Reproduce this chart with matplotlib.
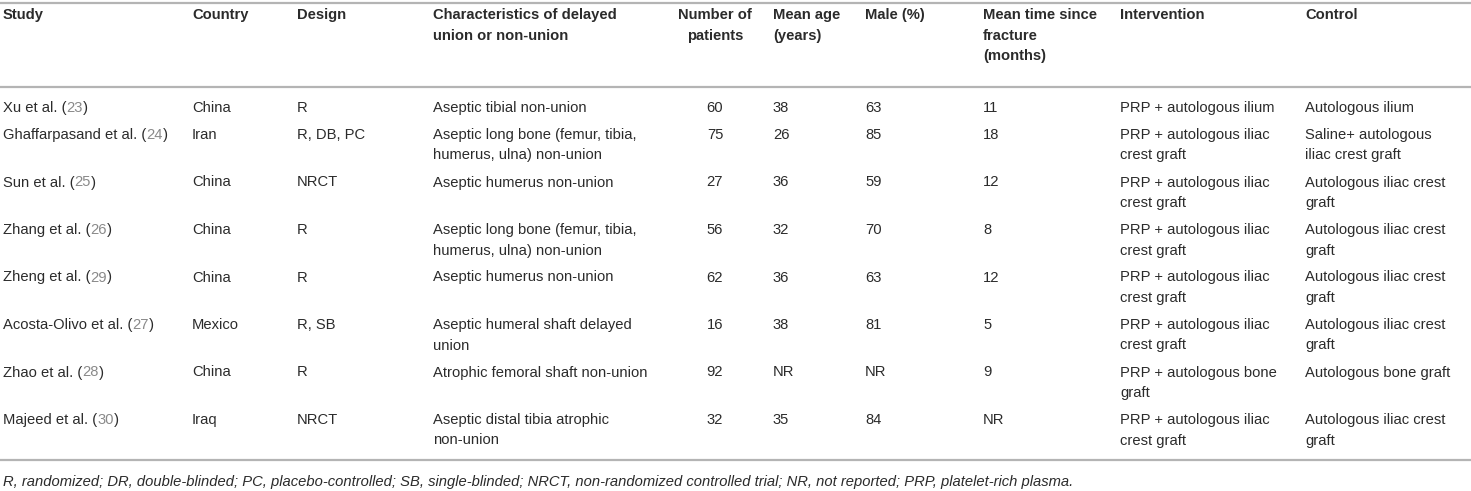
import matplotlib
matplotlib.use('Agg')
import matplotlib.pyplot as plt

# table content
studies = ['Xu et al.', 'Ghaffarpasand et al.', 'Sun et al.', 'Zhang et al.',
           'Zheng et al.', 'Acosta-Olivo et al.', 'Zhao et al.', 'Majeed et al.']
refs = ['23', '24', '25', '26', '29', '27', '28', '30']
countries = ['China', 'Iran', 'China', 'China', 'China', 'Mexico', 'China', 'Iraq']
designs = ['R', 'R, DB, PC', 'NRCT', 'R', 'R', 'R, SB', 'R', 'NRCT']
characteristics = ['Aseptic tibial non-union',
                   'Aseptic long bone (femur, tibia,\nhumerus, ulna) non-union',
                   'Aseptic humerus non-union',
                   'Aseptic long bone (femur, tibia,\nhumerus, ulna) non-union',
                   'Aseptic humerus non-union',
                   'Aseptic humeral shaft delayed\nunion',
                   'Atrophic femoral shaft non-union',
                   'Aseptic distal tibia atrophic\nnon-union']
patients = ['60', '75', '27', '56', '62', '16', '92', '32']
mean_age = ['38', '26', '36', '32', '36', '38', 'NR', '35']
male_pct = ['63', '85', '59', '70', '63', '81', 'NR', '84']
time_since = ['11', '18', '12', '8', '12', '5', '9', 'NR']
intervention = ['PRP + autologous ilium',
                'PRP + autologous iliac\ncrest graft',
                'PRP + autologous iliac\ncrest graft',
                'PRP + autologous iliac\ncrest graft',
                'PRP + autologous iliac\ncrest graft',
                'PRP + autologous iliac\ncrest graft',
                'PRP + autologous bone\ngraft',
                'PRP + autologous iliac\ncrest graft']
control = ['Autologous ilium',
           'Saline+ autologous\niliac crest graft',
           'Autologous iliac crest\ngraft',
           'Autologous iliac crest\ngraft',
           'Autologous iliac crest\ngraft',
           'Autologous iliac crest\ngraft',
           'Autologous bone graft',
           'Autologous iliac crest\ngraft']
headers = ['Study', 'Country', 'Design', 'Characteristics of delayed\nunion or non-union',
           'Number of\npatients', 'Mean age\n(years)', 'Male (%)',
           'Mean time since\nfracture\n(months)', 'Intervention', 'Control']
footnote = ('R, randomized; DR, double-blinded; PC, placebo-controlled; SB, single-blinded; '
            'NRCT, non-randomized controlled trial; NR, not reported; PRP, platelet-rich plasma.')

# layout (pixels)
W, H = 1471, 491
col_x = [3, 192, 297, 433, 715, 773, 865, 983, 1120, 1305]
col_ha = ['left', 'left', 'left', 'left', 'center', 'left', 'left', 'left', 'left', 'left']
line_h = 20.5
row_gap = 6.5
fs = 10.6
txt_col = '#2b2b2b'
ref_col = '#8a8a8a'
rule_col = '#b4b4b4'

plt.rcParams['font.family'] = ['Liberation Sans', 'DejaVu Sans']

fig = plt.figure(figsize=(W / 100, H / 100), dpi=100)
ax = fig.add_axes([0, 0, 1, 1])
ax.set_xlim(0, W)
ax.set_ylim(H, 0)
ax.axis('off')

def cell(x, y, s, ha='left', **kw):
    for i, part in enumerate(s.split('\n')):
        ax.text(x, y + i * line_h, part, ha=ha, va='center', fontsize=fs,
                color=txt_col, **kw)

# rules
ax.axhline(3, color=rule_col, lw=1.6)
ax.axhline(87, color=rule_col, lw=1.6)
ax.axhline(460, color=rule_col, lw=1.6)

# header
for x, ha, h in zip(col_x, col_ha, headers):
    cell(x, 15, h, ha=ha, fontweight='bold')

# body
renderer = fig.canvas.get_renderer()
inv = ax.transData.inverted()
y = 108
for i in range(len(studies)):
    row = [countries[i], designs[i], characteristics[i], patients[i], mean_age[i],
           male_pct[i], time_since[i], intervention[i], control[i]]
    # study name with grey reference number
    t = ax.text(col_x[0], y, studies[i] + ' (', ha='left', va='center', fontsize=fs, color=txt_col)
    x1 = inv.transform(t.get_window_extent(renderer).get_points())[1][0]
    t2 = ax.text(x1, y, refs[i], ha='left', va='center', fontsize=fs, color=ref_col)
    x2 = inv.transform(t2.get_window_extent(renderer).get_points())[1][0]
    ax.text(x2, y, ')', ha='left', va='center', fontsize=fs, color=txt_col)
    for x, ha, s in zip(col_x[1:], col_ha[1:], row):
        cell(x, y, s, ha=ha)
    n = max(s.count('\n') + 1 for s in row)
    y += n * line_h + row_gap

ax.text(col_x[0], 482, footnote, ha='left', va='center', fontsize=fs,
        color=txt_col, style='italic')

fig.savefig('out.png', dpi=100)
